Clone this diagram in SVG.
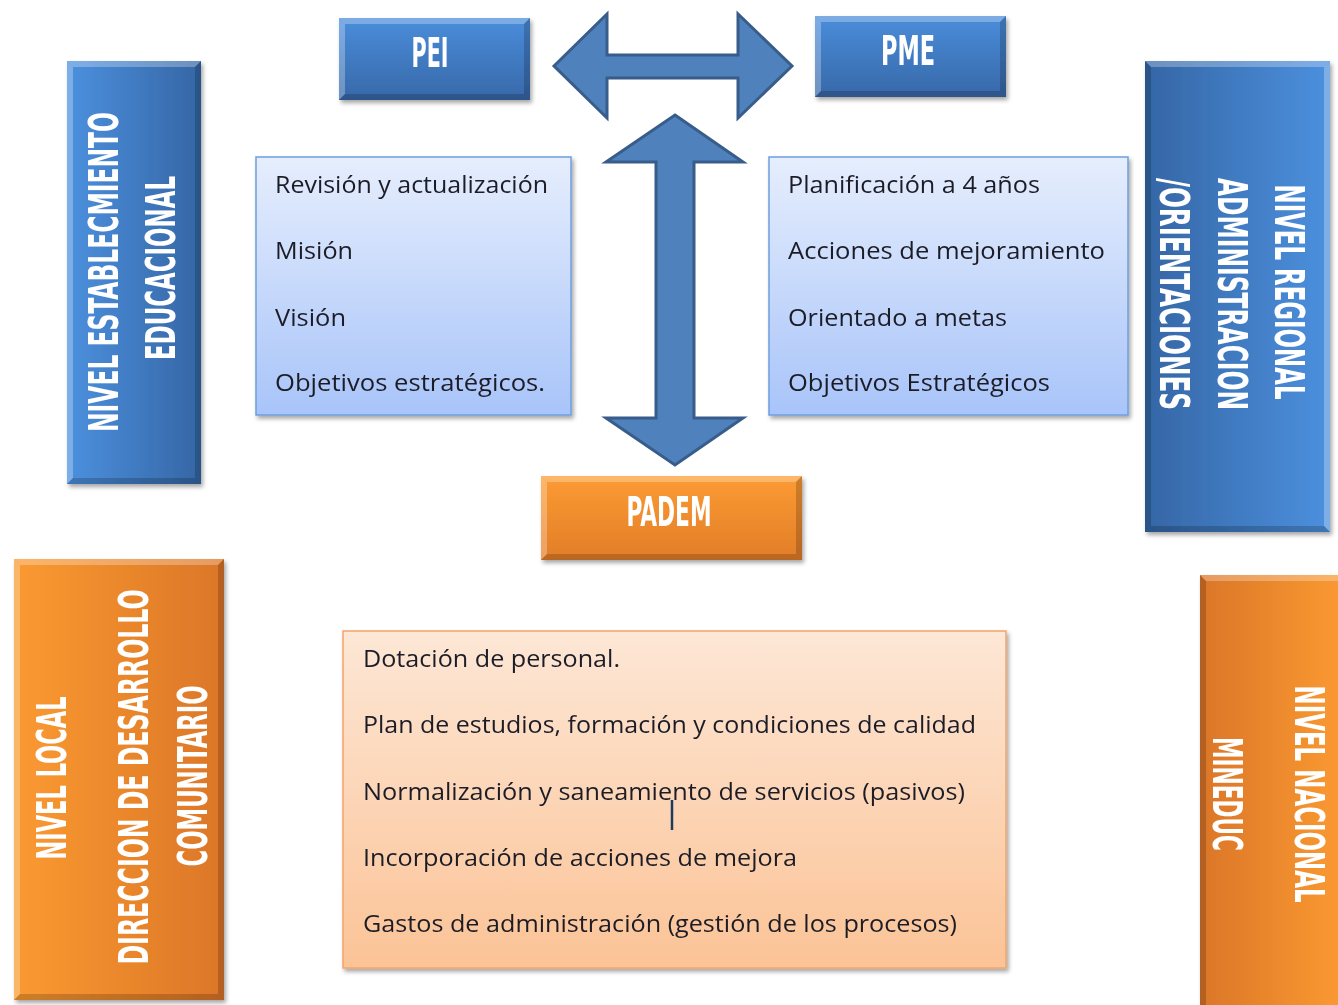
<svg xmlns="http://www.w3.org/2000/svg" width="1338" height="1005" viewBox="0 0 1338 1005">
<defs>
<linearGradient id="bLR" x1="0" y1="0" x2="1" y2="0"><stop offset="0" stop-color="#4c90de"/><stop offset="1" stop-color="#3566a5"/></linearGradient>
<linearGradient id="bRL" x1="1" y1="0" x2="0" y2="0"><stop offset="0" stop-color="#4c90de"/><stop offset="1" stop-color="#3566a5"/></linearGradient>
<linearGradient id="bTB" x1="0" y1="0" x2="0" y2="1"><stop offset="0" stop-color="#4a8ddb"/><stop offset="1" stop-color="#3768a8"/></linearGradient>
<linearGradient id="oLR" x1="0" y1="0" x2="1" y2="0"><stop offset="0" stop-color="#fb9a31"/><stop offset="1" stop-color="#db7628"/></linearGradient>
<linearGradient id="oRL" x1="1" y1="0" x2="0" y2="0"><stop offset="0" stop-color="#fb9a31"/><stop offset="1" stop-color="#db7628"/></linearGradient>
<linearGradient id="oTB" x1="0" y1="0" x2="0" y2="1"><stop offset="0" stop-color="#fc9b32"/><stop offset="1" stop-color="#e27d29"/></linearGradient>
<linearGradient id="lb" x1="0" y1="0" x2="0" y2="1"><stop offset="0" stop-color="#e6eefd"/><stop offset="1" stop-color="#a8c4f9"/></linearGradient>
<linearGradient id="pch" x1="0" y1="0" x2="0" y2="1"><stop offset="0" stop-color="#fde7d6"/><stop offset="1" stop-color="#fbc396"/></linearGradient>
<filter id="sh" x="-10%" y="-10%" width="120%" height="120%"><feDropShadow dx="2" dy="3" stdDeviation="2" flood-color="#000" flood-opacity="0.35"/></filter>
</defs>
<style>
.t{font-family:"DejaVu Sans Condensed","DejaVu Sans",sans-serif;font-weight:bold;font-size:25px;fill:#ffffff;text-anchor:middle}
.b{font-family:"Open Sans","Liberation Sans",sans-serif;font-size:23px;fill:#1e1e28}
.hi{fill:#ffffff;opacity:0.28}
.lo{fill:#000000;opacity:0.18}
.arr{fill:#4f81bd;stroke:#385d8a;stroke-width:3;stroke-linejoin:miter}
.lbx{fill:url(#lb);stroke:#6f9ede;stroke-width:1.5}
.pbx{fill:url(#pch);stroke:#f3a469;stroke-width:1.5}
</style>

<g id="connectors">
<polygon class="arr" points="554,66 607,14 607,55 738,55 738,14 792,66 738,118 738,78 607,78 607,118"/>
<polygon class="arr" points="675,115 743,162 694,162 694,418 743,418 675,465 606,418 656,418 656,162 606,162"/>
</g>

<g id="nivel-establecimiento" filter="url(#sh)">
<rect x="67" y="61" width="134" height="423" fill="url(#bLR)"/>
<polygon class="hi" points="67,61 201,61 195,67 73,67"/>
<polygon class="hi" points="67,61 73,67 73,478 67,484"/>
<polygon class="lo" points="201,61 201,484 195,478 195,67"/>
<polygon class="lo" points="67,484 201,484 195,478 73,478"/>
<text class="t" transform="translate(118,272) rotate(-90) scale(1,1.65)" textLength="320" lengthAdjust="spacingAndGlyphs">NIVEL ESTABLECMIENTO</text>
<text class="t" transform="translate(175,268) rotate(-90) scale(1,1.65)" textLength="184" lengthAdjust="spacingAndGlyphs">EDUCACIONAL</text>
</g>

<g id="nivel-regional" filter="url(#sh)">
<rect x="1145" y="61" width="185" height="471" fill="url(#bRL)"/>
<polygon class="hi" points="1145,61 1330,61 1324,67 1151,67"/>
<polygon class="hi" points="1330,61 1330,532 1324,526 1324,67"/>
<polygon class="lo" points="1145,61 1151,67 1151,526 1145,532"/>
<polygon class="lo" points="1145,532 1330,532 1324,526 1151,526"/>
<text class="t" transform="translate(1275,292) rotate(90) scale(1,1.65)" textLength="215" lengthAdjust="spacingAndGlyphs">NIVEL REGIONAL</text>
<text class="t" transform="translate(1218,294) rotate(90) scale(1,1.65)" textLength="232" lengthAdjust="spacingAndGlyphs">ADMINISTRACION</text>
<text class="t" transform="translate(1160,294) rotate(90) scale(1,1.65)" textLength="232" lengthAdjust="spacingAndGlyphs">/ORIENTACIONES</text>
</g>

<g id="nivel-local" filter="url(#sh)">
<rect x="14" y="559" width="210" height="441" fill="url(#oLR)"/>
<polygon class="hi" points="14,559 224,559 218,565 20,565"/>
<polygon class="hi" points="14,559 20,565 20,994 14,1000"/>
<polygon class="lo" points="224,559 224,1000 218,994 218,565"/>
<polygon class="lo" points="14,1000 224,1000 218,994 20,994"/>
<text class="t" transform="translate(66,778) rotate(-90) scale(1,1.65)" textLength="163" lengthAdjust="spacingAndGlyphs">NIVEL LOCAL</text>
<text class="t" transform="translate(148,777) rotate(-90) scale(1,1.65)" textLength="375" lengthAdjust="spacingAndGlyphs">DIRECCION DE DESARROLLO</text>
<text class="t" transform="translate(207,776) rotate(-90) scale(1,1.65)" textLength="181" lengthAdjust="spacingAndGlyphs">COMUNITARIO</text>
</g>

<g id="nivel-nacional" filter="url(#sh)">
<rect x="1200" y="575" width="145" height="440" fill="url(#oRL)"/>
<polygon class="hi" points="1200,575 1345,575 1339,581 1206,581"/>
<polygon class="lo" points="1200,575 1206,581 1206,1015 1200,1015"/>
<text class="t" transform="translate(1295,794) rotate(90) scale(1,1.65)" textLength="217" lengthAdjust="spacingAndGlyphs">NIVEL NACIONAL</text>
<text class="t" transform="translate(1213,794) rotate(90) scale(1,1.65)" textLength="114" lengthAdjust="spacingAndGlyphs">MINEDUC</text>
</g>

<g id="pei" filter="url(#sh)">
<rect x="339" y="18" width="191" height="82" fill="url(#bTB)"/>
<polygon class="hi" points="339,18 530,18 524,24 345,24"/>
<polygon class="hi" points="339,18 345,24 345,94 339,100"/>
<polygon class="lo" points="530,18 530,100 524,94 524,24"/>
<polygon class="lo" points="339,100 530,100 524,94 345,94"/>
<text class="t" transform="translate(430,67) scale(1,1.65)" textLength="37" lengthAdjust="spacingAndGlyphs">PEI</text>
</g>

<g id="pme" filter="url(#sh)">
<rect x="815" y="16" width="191" height="81" fill="url(#bTB)"/>
<polygon class="hi" points="815,16 1006,16 1000,22 821,22"/>
<polygon class="hi" points="815,16 821,22 821,91 815,97"/>
<polygon class="lo" points="1006,16 1006,97 1000,91 1000,22"/>
<polygon class="lo" points="815,97 1006,97 1000,91 821,91"/>
<text class="t" transform="translate(908,65) scale(1,1.65)" textLength="54" lengthAdjust="spacingAndGlyphs">PME</text>
</g>

<g id="padem" filter="url(#sh)">
<rect x="541" y="476" width="261" height="84" fill="url(#oTB)"/>
<polygon class="hi" points="541,476 802,476 796,482 547,482"/>
<polygon class="hi" points="541,476 547,482 547,554 541,560"/>
<polygon class="lo" points="802,476 802,560 796,554 796,482"/>
<polygon class="lo" points="541,560 802,560 796,554 547,554"/>
<text class="t" transform="translate(669,526) scale(1,1.65)" textLength="85" lengthAdjust="spacingAndGlyphs">PADEM</text>
</g>

<g id="pei-detalle" filter="url(#sh)">
<rect class="lbx" x="256" y="157" width="315" height="258"/>
<text class="b" x="275" y="193" textLength="273" lengthAdjust="spacingAndGlyphs">Revisión y actualización</text>
<text class="b" x="275" y="259" textLength="78" lengthAdjust="spacingAndGlyphs">Misión</text>
<text class="b" x="275" y="326" textLength="71" lengthAdjust="spacingAndGlyphs">Visión</text>
<text class="b" x="275" y="391" textLength="270" lengthAdjust="spacingAndGlyphs">Objetivos estratégicos.</text>
</g>

<g id="pme-detalle" filter="url(#sh)">
<rect class="lbx" x="769" y="157" width="359" height="258"/>
<text class="b" x="788" y="193" textLength="252" lengthAdjust="spacingAndGlyphs">Planificación a 4 años</text>
<text class="b" x="788" y="259" textLength="317" lengthAdjust="spacingAndGlyphs">Acciones de mejoramiento</text>
<text class="b" x="788" y="326" textLength="219" lengthAdjust="spacingAndGlyphs">Orientado a metas</text>
<text class="b" x="788" y="391" textLength="262" lengthAdjust="spacingAndGlyphs">Objetivos Estratégicos</text>
</g>

<g id="padem-detalle" filter="url(#sh)">
<rect class="pbx" x="343" y="631" width="663" height="337"/>
<text class="b" x="363" y="667" textLength="257" lengthAdjust="spacingAndGlyphs">Dotación de personal.</text>
<text class="b" x="363" y="733" textLength="613" lengthAdjust="spacingAndGlyphs">Plan de estudios, formación y condiciones de calidad</text>
<text class="b" x="363" y="800" textLength="602" lengthAdjust="spacingAndGlyphs">Normalización y saneamiento de servicios (pasivos)</text>
<text class="b" x="363" y="866" textLength="434" lengthAdjust="spacingAndGlyphs">Incorporación de acciones de mejora</text>
<text class="b" x="363" y="932" textLength="594" lengthAdjust="spacingAndGlyphs">Gastos de administración (gestión de los procesos)</text>
<line x1="672" y1="800" x2="672" y2="830" stroke="#1f3a5f" stroke-width="2.5"/>
</g>
</svg>
